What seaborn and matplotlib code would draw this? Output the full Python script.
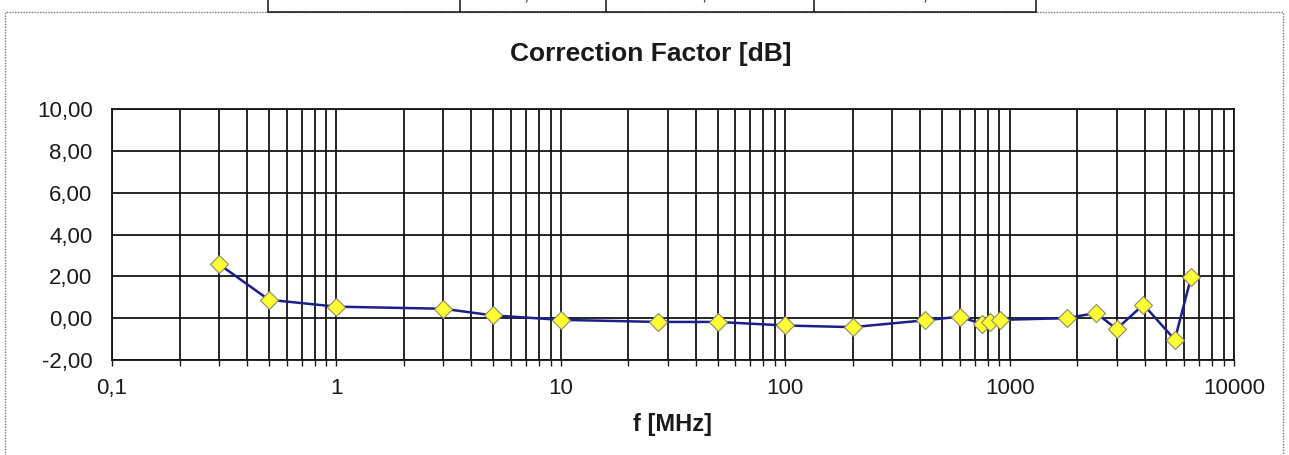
import numpy as np
import pandas as pd
import seaborn as sns
import matplotlib.pyplot as plt
from matplotlib.ticker import FixedLocator, FuncFormatter, LogLocator, NullFormatter
from matplotlib.patches import Rectangle

# valori
freq_mhz = [0.3, 0.5, 1, 3, 5, 10, 27, 50, 100, 200, 420, 600, 750, 820, 910,
            1800, 2430, 3000, 3950, 5450, 6450]
corr_db = [2.58, 0.88, 0.55, 0.45, 0.13, -0.08, -0.18, -0.18, -0.35, -0.43, -0.1,
           0.07, -0.27, -0.16, -0.08, 0.0, 0.25, -0.52, 0.65, -1.03, 1.98]
x_ticks = [0.1, 1, 10, 100, 1000, 10000]
x_tick_labels = ['0,1', '1', '10', '100', '1000', '10000']
y_ticks = [-2, 0, 2, 4, 6, 8, 10]
table_cells = ['6000', '4,25', '2,07', '20,00']

df = pd.DataFrame({'f': freq_mhz, 'cf': corr_db})

sns.set_theme(style='white')
plt.rcParams['font.family'] = ['Liberation Sans', 'DejaVu Sans']

fig = plt.figure(figsize=(12.89, 4.55), dpi=100)
ax = fig.add_axes([0.0869, 0.2088, 0.8704, 0.5516])

sns.lineplot(data=df, x='f', y='cf', ax=ax, color='#1c1f8a', lw=1.8,
             marker='D', markersize=9, markerfacecolor='#ffff33',
             markeredgecolor='#8a8a6a', markeredgewidth=0.8, zorder=5)

ax.set_xscale('log')
ax.set_xlim(0.1, 10000)
ax.set_ylim(-2, 10)
ax.xaxis.set_major_locator(FixedLocator(x_ticks))
ax.xaxis.set_major_formatter(FuncFormatter(lambda v, p: x_tick_labels[x_ticks.index(v)] if v in x_ticks else ''))
ax.xaxis.set_minor_locator(LogLocator(base=10, subs=np.arange(2, 10)))
ax.xaxis.set_minor_formatter(NullFormatter())
ax.set_yticks(y_ticks)
ax.yaxis.set_major_formatter(FuncFormatter(lambda v, p: f'{v:.2f}'.replace('.', ',')))

ax.grid(True, which='both', axis='x', color='#151515', lw=1.3)
ax.grid(True, which='major', axis='y', color='#151515', lw=1.3)
for s in ax.spines.values():
    s.set_color('#151515')
    s.set_linewidth(1.3)

ax.tick_params(axis='x', which='both', direction='out', length=4, width=1, color='#1a1a1a',
               bottom=True, labelsize=16, pad=9, labelcolor='#1a1a1a')
ax.tick_params(axis='y', which='major', length=0, labelsize=16, pad=14, labelcolor='#1a1a1a')

ax.set_xlabel('f [MHz]', fontsize=17, fontweight='bold', labelpad=10, color='#1a1a1a')
ax.set_ylabel('')
fig.text(0.505, 0.882, 'Correction Factor [dB]', ha='center', va='center',
         fontsize=19, fontweight='bold', color='#1a1a1a')

# cornice tratteggiata esterna
fig.patches.append(Rectangle((0.0035, -0.01), 0.992, 0.984, transform=fig.transFigure,
                             fill=False, ec='#777777', lw=1.0, ls=(0, (1, 1))))

# frammento di tabella in alto
cells = [268, 460, 606, 814, 1036]
for x in cells:
    fig.add_artist(plt.Line2D([x / 1289, x / 1289], [1, 1 - 12 / 455],
                              transform=fig.transFigure, color='#222222', lw=1.2))
fig.add_artist(plt.Line2D([268 / 1289, 1036 / 1289], [1 - 12 / 455] * 2,
                          transform=fig.transFigure, color='#222222', lw=1.2))
for i, t in enumerate(table_cells):
    xc = (cells[i] + cells[i + 1]) / 2 / 1289
    fig.text(xc, 1 - 4 / 455, t, ha='center', va='bottom', fontsize=14)

fig.savefig('out.png', dpi=100)
